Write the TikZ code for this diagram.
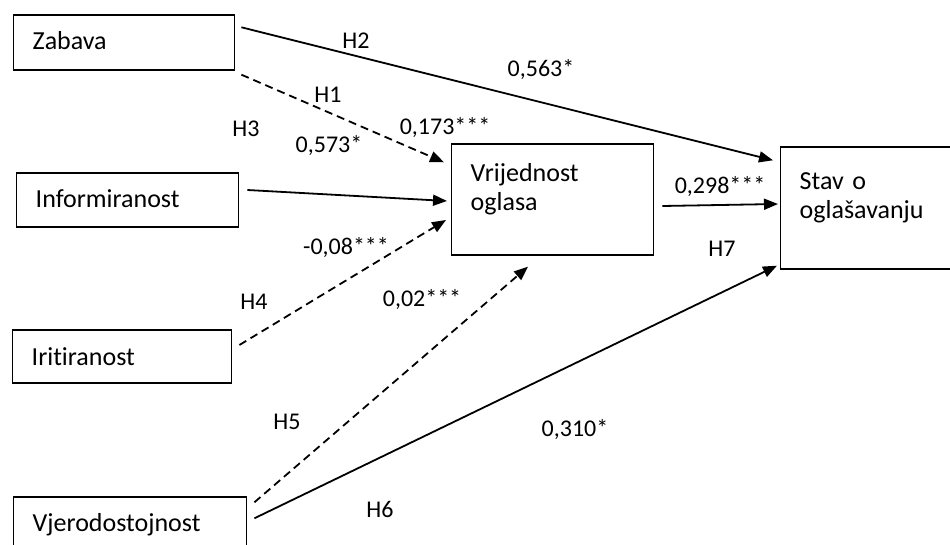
\documentclass[tikz,border=0pt]{standalone}
\usepackage{fontspec}
\setmainfont{Carlito}[Ligatures=NoCommon]
\usetikzlibrary{arrows.meta, calc}

\begin{document}
\begin{tikzpicture}[x=1pt, y=-1pt, >={Triangle[length=14pt, width=11pt]},
    varbox/.style={draw, line width=1.4pt, rectangle, anchor=west,
                   inner xsep=19pt, inner ysep=0pt, align=left,
                   font=\fontsize{26}{29}\selectfont},
    link/.style={->, line width=1.8pt},
    weaklink/.style={link, dash pattern=on 8pt off 5pt},
    lbl/.style={anchor=base, inner sep=0pt, font=\fontsize{24}{28}\selectfont}]
  \useasboundingbox (0,0) rectangle (950,545);

  % antecedents
  \node[varbox, text width=183pt, text height=35pt, text depth=20pt] (zabava) at (13,42.5) {Zabava};
  \node[varbox, text width=184pt, text height=35pt, text depth=19pt] (inform) at (16,200) {Informiranost};
  \node[varbox, text width=181pt, text height=35pt, text depth=18pt] (irit) at (12,356.5) {Iritiranost};
  \node[varbox, text width=195pt, text height=34pt, text depth=20pt] (vjerod) at (13,524) {Vjerodostojnost};

  % mediator and outcome
  \node[varbox, text width=164pt, text height=38pt, text depth=73pt] (vrijed) at (451,199.5) {Vrijednost\\oglasa};
  \node[varbox, text width=142pt, text height=43pt, text depth=79pt] (stav) at (780,208) {Stav o\\oglašavanju};

  % paths
  \draw[link] ($(zabava.north east)+(6,13)$) -- ($(stav.north west)+(-7,14)$);
  \draw[weaklink] ($(zabava.south east)+(6,4)$) -- ($(vrijed.north west)+(-7,19)$);
  \draw[link] ($(inform.east)+(8,-10)$) -- ($(vrijed.west)+(-4,1.5)$);
  \draw[weaklink] ($(irit.east)+(7,-11.5)$) -- ($(vrijed.west)+(-5,20.5)$);
  \draw[weaklink] ($(vjerod.north east)+(7,6)$) -- ($(vrijed.south west)+(77,11)$);
  \draw[link] ($(vjerod.north east)+(7,22)$) -- ($(stav.south west)+(-3,-4)$);
  \draw[link] ($(vrijed.east)+(8,6.5)$) -- ($(stav.west)+(-2,-4)$);

  % hypotheses and coefficients
  \node[lbl] (h2) at (356,49) {H2};
  \node[lbl] (c2) at (541,77) {0,563*};
  \node[lbl] (h1) at (328,103) {H1};
  \node[lbl] (c1) at (445,135) {0,173***};
  \node[lbl] (h3) at (246,137) {H3};
  \node[lbl] (c3) at (329,153) {0,573*};
  \node[lbl] (c4) at (346,255) {-0,08***};
  \node[lbl] (h4) at (254,309) {H4};
  \node[lbl] (c5) at (422,306) {0,02***};
  \node[lbl] (h5) at (287,429) {H5};
  \node[lbl] (h6) at (380,517) {H6};
  \node[lbl] (c6) at (575,436) {0,310*};
  \node[lbl] (h7) at (722,257) {H7};
  \node[lbl] (c7) at (720,194) {0,298***};
\end{tikzpicture}
\end{document}
